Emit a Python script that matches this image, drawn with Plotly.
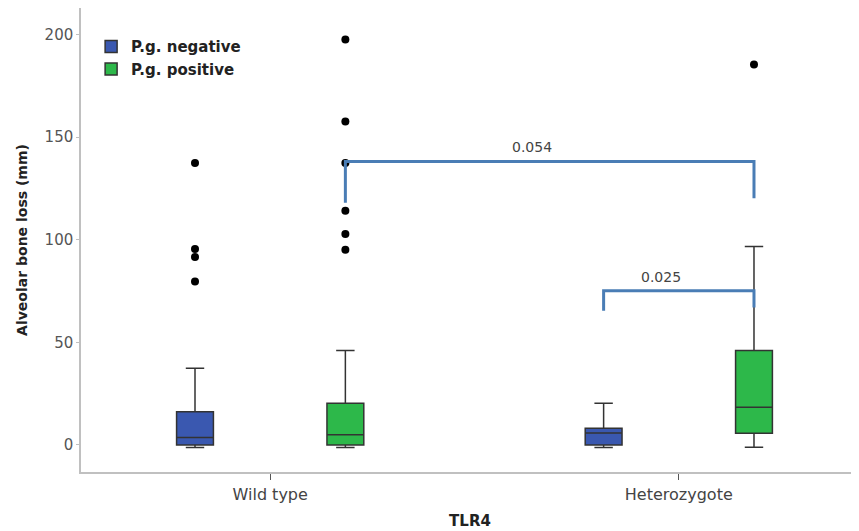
import plotly.graph_objects as go

# ---- data ----
genotypes = ["Wild type", "Heterozygote"]
group_names = ["P.g. negative", "P.g. positive"]

neg_q1 = [0.0, 0.0]
neg_median = [3.6, 5.8]
neg_q3 = [16.2, 8.1]
neg_lower = [-1.3, -1.2]
neg_upper = [37.4, 20.3]
neg_outliers = [[137.4, 95.5, 91.6, 79.7], []]

pos_q1 = [0.0, 5.7]
pos_median = [4.9, 18.4]
pos_q3 = [20.3, 46.0]
pos_lower = [-1.3, -1.1]
pos_upper = [46.0, 96.7]
pos_outliers = [[197.6, 157.7, 137.4, 114.1, 102.8, 95.1], [185.4]]

# significance brackets: (genotype, group) at each end
bracket_labels = ["0.054", "0.025"]
bracket_left = [("Wild type", 1), ("Heterozygote", 0)]
bracket_right = [("Heterozygote", 1), ("Heterozygote", 1)]
bracket_top = [138.2, 75.1]
bracket_left_end = [118.0, 65.4]
bracket_right_end = [120.3, 67.0]

y_ticks = [0, 50, 100, 150, 200]

# ---- styling ----
colors = ["#3a58b0", "#2db84a"]
BOXGAP = 0.264
BOXGROUPGAP = 0.755
bracket_color = "#4a7db5"
FONT = "DejaVu Sans"

fig = go.Figure()
stats = [
    (neg_q1, neg_median, neg_q3, neg_lower, neg_upper, neg_outliers),
    (pos_q1, pos_median, pos_q3, pos_lower, pos_upper, pos_outliers),
]
for name, col, (q1, med, q3, lo, up, outl) in zip(group_names, colors, stats):
    fig.add_trace(go.Box(
        name=name,
        x=genotypes,
        q1=q1, median=med, q3=q3,
        lowerfence=lo, upperfence=up,
        y=outl,
        boxpoints="outliers",
        jitter=0, pointpos=0,
        fillcolor=col,
        line=dict(color="#333333", width=1.5),
        marker=dict(color="black", size=8),
        whiskerwidth=0.5,
    ))

# offset of each group's box centre from the category centre (plotly grouping rule)
offset = (1 - BOXGAP) / 4


def xpos(genotype, group):
    return genotypes.index(genotype) + (-offset if group == 0 else offset)


shapes = []
annotations = []
for lab, l, r, top, le, re in zip(bracket_labels, bracket_left, bracket_right,
                                  bracket_top, bracket_left_end, bracket_right_end):
    x0 = xpos(*l)
    x1 = xpos(*r)
    shapes.append(dict(
        type="path", xref="x", yref="y",
        path=f"M {x0},{le} L {x0},{top} L {x1},{top} L {x1},{re}",
        line=dict(color=bracket_color, width=3),
    ))
    annotations.append(dict(
        x=(x0 + x1) / 2, y=top, xref="x", yref="y",
        text=lab, showarrow=False, yanchor="bottom", yshift=4, xshift=-18,
        font=dict(family=FONT, size=14, color="#444444"),
    ))

# the page body has an 8px margin, so the figure is sized to fit the window
fig.update_layout(
    width=851, height=523,
    margin=dict(l=73, r=0, t=0, b=59),
    paper_bgcolor="white", plot_bgcolor="white",
    boxmode="group", boxgap=BOXGAP, boxgroupgap=BOXGROUPGAP,
    shapes=shapes, annotations=annotations,
    font=dict(family=FONT, color="#444444"),
    showlegend=True,
    legend=dict(
        x=0.013, y=0.952, xanchor="left", yanchor="top",
        bgcolor="rgba(0,0,0,0)",
        font=dict(family=FONT, size=15, color="#222222", weight="bold"),
        tracegroupgap=0, itemwidth=30,
    ),
)
fig.update_xaxes(
    type="category", categoryorder="array", categoryarray=genotypes,
    range=[-0.463, 1.441],
    showline=True, linecolor="#c0c0c0", linewidth=1.5,
    ticks="outside", ticklen=6, tickcolor="#555555", tickwidth=1,
    ticklabelstandoff=1,
    tickfont=dict(family=FONT, size=16, color="#444444"),
    showgrid=False, zeroline=False,
    title=dict(text="TLR4", standoff=13,
               font=dict(family=FONT, size=15, color="#222222", weight="bold")),
    automargin=False,
)
fig.update_yaxes(
    range=[-13.2, 213],
    tickvals=y_ticks,
    showline=True, linecolor="#c0c0c0", linewidth=1.5,
    ticks="outside", ticklen=3, tickcolor="#c0c0c0",
    tickfont=dict(family=FONT, size=15, color="#555555"),
    showgrid=False, zeroline=False,
    title=dict(text="Alveolar bone loss (mm)", standoff=14,
               font=dict(family=FONT, size=14, color="#222222", weight="bold")),
    automargin=False,
)

fig.write_html("out.html")
